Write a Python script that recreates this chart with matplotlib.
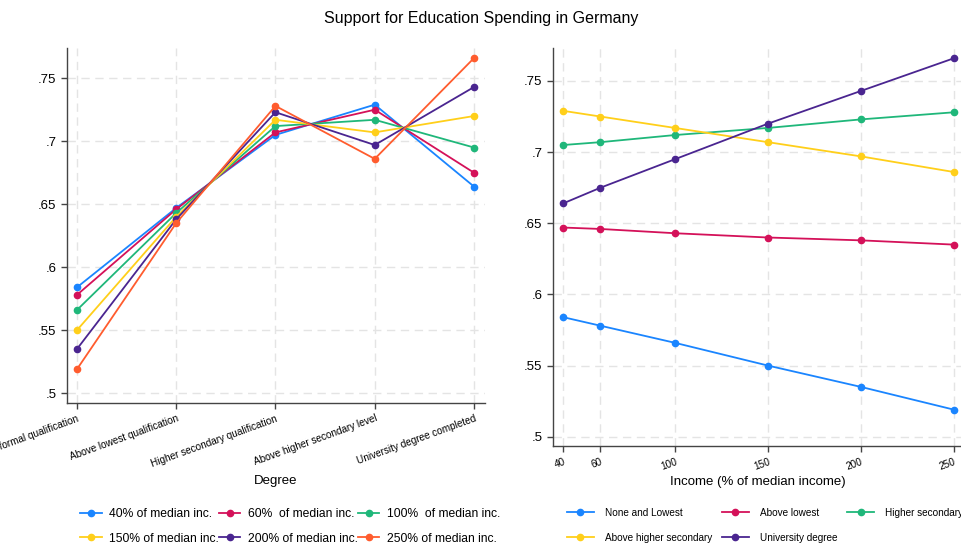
import matplotlib.pyplot as plt
from matplotlib.ticker import FuncFormatter
from matplotlib.transforms import Bbox

# predicted support, rows = degree, columns = income level
degrees = ['No formal qualification', 'Above lowest qualification',
           'Higher secondary qualification', 'Above higher secondary level',
           'University degree completed']
degree_short = ['None and Lowest', 'Above lowest', 'Higher secondary',
                'Above higher secondary', 'University degree']
incomes = [40, 60, 100, 150, 200, 250]
income_labels = ['40% of median inc.', '60%  of median inc.', '100%  of median inc.',
                 '150% of median inc.', '200% of median inc.', '250% of median inc.']

none_lowest = [0.584, 0.578, 0.566, 0.550, 0.535, 0.519]
above_lowest = [0.647, 0.646, 0.643, 0.640, 0.638, 0.635]
higher_sec = [0.705, 0.707, 0.712, 0.717, 0.723, 0.728]
above_higher = [0.729, 0.725, 0.717, 0.707, 0.697, 0.686]
university = [0.664, 0.675, 0.695, 0.720, 0.743, 0.766]
support = [none_lowest, above_lowest, higher_sec, above_higher, university]

income_colors = ['#1a85ff', '#d41159', '#1fb77a', '#ffcf1a', '#4a2590', '#ff5c2e']
degree_colors = ['#1a85ff', '#d41159', '#1fb77a', '#ffcf1a', '#4a2590']

plt.rcParams['font.family'] = ['Liberation Sans', 'DejaVu Sans']

fig = plt.figure(figsize=(9.62, 5.45), dpi=100)
ax1 = fig.add_axes([0.0696, 0.2606, 0.4345, 0.6514])
ax2 = fig.add_axes([0.5745, 0.1817, 0.4255, 0.7303])

fmt = FuncFormatter(lambda v, p: f'{v:.2f}'.rstrip('0').lstrip('0'))


def style(ax):
    for s in ['top', 'right']:
        ax.spines[s].set_visible(False)
    for s in ['left', 'bottom']:
        ax.spines[s].set_color('#444444')
        ax.spines[s].set_linewidth(1.0)
    ax.grid(True, color='#e4e4e4', linestyle=(0, (6, 4)), linewidth=1.0)
    ax.set_axisbelow(True)
    ax.tick_params(direction='out', length=4, width=1, color='#444444')
    ax.tick_params(axis='y', labelsize=9.5)
    ax.tick_params(axis='x', labelsize=7.2)
    ax.set_yticks([0.5, 0.55, 0.6, 0.65, 0.7, 0.75])
    ax.yaxis.set_major_formatter(fmt)


def row_order(items, ncol, n):
    # matplotlib fills legend columns first; reorder so rows read left to right
    nrow = -(-n // ncol)
    out = []
    for c in range(ncol):
        for r in range(nrow):
            k = r * ncol + c
            if k < n:
                out.append(items[k])
    return out


# left panel: x = degree, one line per income level
xpos = list(range(len(degrees)))
for j, lab in enumerate(income_labels):
    ys = [support[i][j] for i in range(len(degrees))]
    ax1.plot(xpos, ys, '-o', color=income_colors[j], lw=1.3, ms=4.5, label=lab)
style(ax1)
ax1.set_xlim(-0.1, 4.11)
ax1.set_ylim(0.4923, 0.774)
ax1.set_xticks(xpos)
ax1.set_xticklabels(degrees, rotation=20, ha='right', rotation_mode='anchor')
ax1.set_xlabel('Degree', fontsize=9.5, labelpad=5)

# right panel: x = income, one line per degree
for i, lab in enumerate(degree_short):
    ax2.plot(incomes, support[i], '-o', color=degree_colors[i], lw=1.3, ms=4.5, label=lab)
style(ax2)
ax2.set_xlim(34.3, 254.3)
ax2.set_ylim(0.4935, 0.7732)
ax2.set_xticks(incomes)
ax2.set_xticklabels([str(v) for v in incomes], rotation=20, ha='right', rotation_mode='anchor')
ax2.set_xlabel('Income (% of median income)', fontsize=9.5, labelpad=3)

fig.suptitle('Support for Education Spending in Germany', fontsize=11.5, y=0.979)

h, l = ax1.get_legend_handles_labels()
leg1 = fig.legend(row_order(h, 3, 6), row_order(l, 3, 6), ncol=3, loc='upper left',
                  bbox_to_anchor=(0.083, 0.067), bbox_transform=fig.transFigure,
                  frameon=False, fontsize=8.7, handlelength=1.8, handletextpad=0.6,
                  columnspacing=0.0, labelspacing=1.0, borderaxespad=0, borderpad=0)
clip = Bbox.from_extents(0, 0, 500, 545)
for t in leg1.get_texts():
    t.set_clip_box(clip)
    t.set_clip_on(True)

h, l = ax2.get_legend_handles_labels()
fig.legend(row_order(h, 3, 5), row_order(l, 3, 5), ncol=3, loc='upper left',
           bbox_to_anchor=(0.589, 0.068), bbox_transform=fig.transFigure,
           frameon=False, fontsize=7.2, handlelength=2.7, handletextpad=1.1,
           columnspacing=1.0, labelspacing=1.5, borderaxespad=0, borderpad=0)

fig.savefig('out.png', dpi=100)
